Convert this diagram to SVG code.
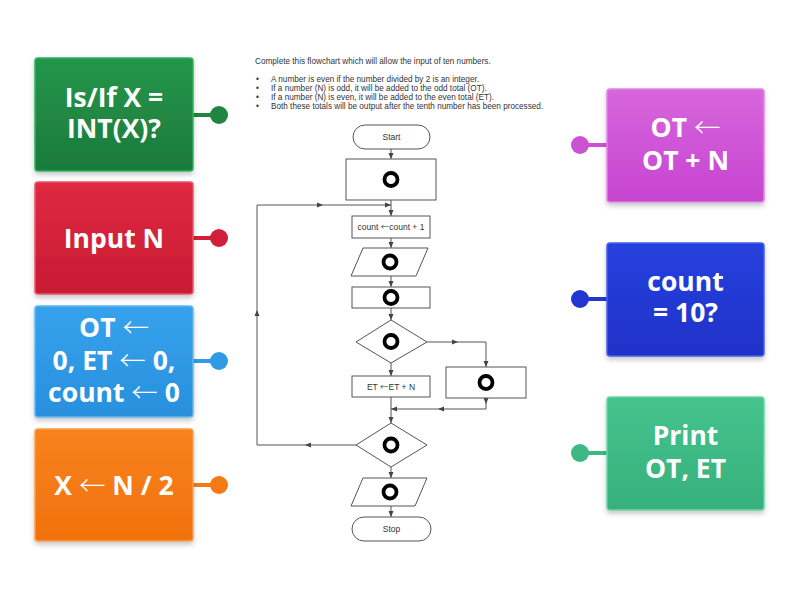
<svg xmlns="http://www.w3.org/2000/svg" width="800" height="600" viewBox="0 0 800 600">
<defs>
  <style>
    .card-text{font-family:"Open Sans","Noto Sans",sans-serif;font-weight:700;font-size:26.5px;fill:#ffffff;text-anchor:middle}
    .arw{font-family:"Noto Sans CJK SC","Noto Sans",sans-serif;font-weight:300}
    .fc{fill:#ffffff;stroke:#555555;stroke-width:1}
    .fc-text{font-family:"Liberation Sans",Arial,sans-serif;font-size:8.5px;fill:#333333;text-anchor:middle}
    .intro{font-family:"Liberation Sans",Arial,sans-serif;font-size:8.2px;fill:#333333}
    .conn{fill:none;stroke:#555555;stroke-width:1}
    .ring{fill:none;stroke:#000000;stroke-width:3.8}
    .pin{stroke-width:4}
  </style>
  <marker id="arr" viewBox="0 0 6 6" refX="6" refY="3" markerWidth="6" markerHeight="6" markerUnits="userSpaceOnUse" orient="auto">
    <path d="M0,0.5 L6,3 L0,5.5 z" fill="#444444"/>
  </marker>
  <filter id="sh" x="-10%" y="-10%" width="120%" height="130%">
    <feDropShadow dx="0" dy="3" stdDeviation="2.5" flood-color="#000000" flood-opacity="0.22"/>
  </filter>
  <linearGradient id="gGreen" x1="0" y1="0" x2="0" y2="1"><stop offset="0" stop-color="#24964a"/><stop offset="1" stop-color="#1d7a3c"/></linearGradient>
  <linearGradient id="gRed" x1="0" y1="0" x2="0" y2="1"><stop offset="0" stop-color="#df2a42"/><stop offset="1" stop-color="#c81a33"/></linearGradient>
  <linearGradient id="gBlue" x1="0" y1="0" x2="0" y2="1"><stop offset="0" stop-color="#36a2ec"/><stop offset="1" stop-color="#2890de"/></linearGradient>
  <linearGradient id="gOrange" x1="0" y1="0" x2="0" y2="1"><stop offset="0" stop-color="#f8821c"/><stop offset="1" stop-color="#f0720e"/></linearGradient>
  <linearGradient id="gPurple" x1="0" y1="0" x2="0" y2="1"><stop offset="0" stop-color="#d766dc"/><stop offset="1" stop-color="#c644d0"/></linearGradient>
  <linearGradient id="gNavy" x1="0" y1="0" x2="0" y2="1"><stop offset="0" stop-color="#2640de"/><stop offset="1" stop-color="#1f32c8"/></linearGradient>
  <linearGradient id="gTeal" x1="0" y1="0" x2="0" y2="1"><stop offset="0" stop-color="#45c38d"/><stop offset="1" stop-color="#37b07c"/></linearGradient>
</defs>
<rect width="800" height="600" fill="#ffffff"/>

<!-- intro text -->
<g id="intro">
  <text class="intro" x="255" y="64">Complete this flowchart which will allow the input of ten numbers.</text>
  <text class="intro" x="256" y="82">•</text>
  <text class="intro" x="271" y="82">A number is even if the number divided by 2 is an integer.</text>
  <text class="intro" x="256" y="91">•</text>
  <text class="intro" x="271" y="91">If a number (N) is odd, it will be added to the odd total (OT).</text>
  <text class="intro" x="256" y="100">•</text>
  <text class="intro" x="271" y="100">If a number (N) is even, it will be added to the even total (ET).</text>
  <text class="intro" x="256" y="109">•</text>
  <text class="intro" x="271" y="109">Both these totals will be output after the tenth number has been processed.</text>
</g>

<!-- connectors -->
<g id="connectors">
  <line class="conn" x1="391" y1="149" x2="391" y2="159" marker-end="url(#arr)"/>
  <line class="conn" x1="391" y1="200" x2="391" y2="216" marker-end="url(#arr)"/>
  <line class="conn" x1="391" y1="238" x2="391" y2="248" marker-end="url(#arr)"/>
  <line class="conn" x1="391" y1="276" x2="391" y2="287" marker-end="url(#arr)"/>
  <line class="conn" x1="391" y1="308" x2="391" y2="320" marker-end="url(#arr)"/>
  <line class="conn" x1="391" y1="363" x2="391" y2="376" marker-end="url(#arr)"/>
  <line class="conn" x1="391" y1="397" x2="391" y2="423" marker-end="url(#arr)"/>
  <line class="conn" x1="391" y1="467" x2="391" y2="478" marker-end="url(#arr)"/>
  <line class="conn" x1="391" y1="506" x2="391" y2="517" marker-end="url(#arr)"/>
  <!-- diamond 1 right branch -->
  <line class="conn" x1="427" y1="342" x2="458" y2="342" marker-end="url(#arr)"/>
  <polyline class="conn" points="458,342 486,342 486,367" marker-end="url(#arr)"/>
  <!-- right rect back to main line -->
  <line class="conn" x1="486" y1="398" x2="486" y2="404" marker-end="url(#arr)"/>
  <polyline class="conn" points="486,404 486,409 438,409" marker-end="url(#arr)"/>
  <line class="conn" x1="438" y1="409" x2="391" y2="409" marker-end="url(#arr)"/>
  <!-- loop back from diamond 2 -->
  <line class="conn" x1="356" y1="445" x2="305" y2="445" marker-end="url(#arr)"/>
  <polyline class="conn" points="305,445 257,445 257,310" marker-end="url(#arr)"/>
  <polyline class="conn" points="257,310 257,205 323,205" marker-end="url(#arr)"/>
  <line class="conn" x1="323" y1="205" x2="391" y2="205" marker-end="url(#arr)"/>
</g>

<!-- flowchart nodes -->
<g id="start"><rect class="fc" x="353" y="125" width="77" height="24" rx="12"/><text class="fc-text" x="391.5" y="140">Start</text></g>
<g id="init-box"><rect class="fc" x="346" y="159" width="90" height="41"/><circle class="ring" cx="391" cy="179.5" r="6.5"/></g>
<g id="count-inc"><rect class="fc" x="352" y="216" width="78" height="22"/><text class="fc-text" x="391" y="230">count <tspan class="arw">←</tspan>count + 1</text></g>
<g id="input-box"><polygon class="fc" points="363,248 428,248 416,276 351,276"/><circle class="ring" cx="390" cy="262" r="6.5"/></g>
<g id="calc-box"><rect class="fc" x="352" y="287" width="78" height="21"/><circle class="ring" cx="391" cy="297.5" r="6.5"/></g>
<g id="decision1"><polygon class="fc" points="391,320 427,342 391,363 356,342"/><circle class="ring" cx="391" cy="341.5" r="6.5"/></g>
<g id="et-box"><rect class="fc" x="352" y="376" width="78" height="21"/><text class="fc-text" x="391" y="389.5">ET <tspan class="arw">←</tspan>ET + N</text></g>
<g id="ot-box"><rect class="fc" x="446" y="367" width="80" height="31"/><circle class="ring" cx="486" cy="382.5" r="6.5"/></g>
<g id="decision2"><polygon class="fc" points="391,423 427,445 391,467 356,445"/><circle class="ring" cx="391" cy="445" r="6.5"/></g>
<g id="output-box"><polygon class="fc" points="363,478 427,478 415,506 351,506"/><circle class="ring" cx="390" cy="492" r="6.5"/></g>
<g id="stop"><rect class="fc" x="352" y="517" width="79" height="24" rx="12"/><text class="fc-text" x="391.5" y="532">Stop</text></g>

<!-- answer cards left -->
<g id="card-isint">
  <line class="pin" x1="190" y1="115" x2="219" y2="115" stroke="#1f8541"/><circle cx="219" cy="115" r="9" fill="#1f8541"/>
  <rect x="35" y="58" width="158" height="113" rx="3" fill="url(#gGreen)" stroke="#2db45b" stroke-width="1.5" filter="url(#sh)"/>
  <text class="card-text" x="114" y="107">Is/If X =</text>
  <text class="card-text" x="114" y="138">INT(X)?</text>
</g>
<g id="card-input">
  <line class="pin" x1="190" y1="238" x2="219" y2="238" stroke="#d21f39"/><circle cx="219" cy="238" r="9" fill="#d21f39"/>
  <rect x="35" y="182" width="158" height="112" rx="3" fill="url(#gRed)" stroke="#e8566a" stroke-width="1.5" filter="url(#sh)"/>
  <text class="card-text" x="114" y="248">Input N</text>
</g>
<g id="card-init">
  <line class="pin" x1="190" y1="361" x2="219" y2="361" stroke="#2f9ae6"/><circle cx="219" cy="361" r="9" fill="#2f9ae6"/>
  <rect x="35" y="306" width="158" height="111" rx="3" fill="url(#gBlue)" stroke="#5fb6f0" stroke-width="1.5" filter="url(#sh)"/>
  <text class="card-text" x="114" y="337">OT <tspan class="arw">←</tspan></text>
  <text class="card-text" x="114" y="370">0, ET <tspan class="arw">←</tspan> 0,</text>
  <text class="card-text" x="114" y="402">count <tspan class="arw">←</tspan> 0</text>
</g>
<g id="card-half">
  <line class="pin" x1="190" y1="485" x2="219" y2="485" stroke="#f47a14"/><circle cx="219" cy="485" r="9" fill="#f47a14"/>
  <rect x="35" y="429" width="158" height="112" rx="3" fill="url(#gOrange)" stroke="#fa9d4e" stroke-width="1.5" filter="url(#sh)"/>
  <text class="card-text" x="114" y="495">X <tspan class="arw">←</tspan> N / 2</text>
</g>

<!-- answer cards right -->
<g id="card-ot">
  <line class="pin" x1="580" y1="145" x2="610" y2="145" stroke="#cc52d4"/><circle cx="580" cy="145" r="9" fill="#cc52d4"/>
  <rect x="607" y="89" width="157" height="113" rx="3" fill="url(#gPurple)" stroke="#df85e3" stroke-width="1.5" filter="url(#sh)"/>
  <text class="card-text" x="685.5" y="137">OT <tspan class="arw">←</tspan></text>
  <text class="card-text" x="685.5" y="170">OT + N</text>
</g>
<g id="card-count">
  <line class="pin" x1="580" y1="299" x2="610" y2="299" stroke="#2237d2"/><circle cx="580" cy="299" r="9" fill="#2237d2"/>
  <rect x="607" y="243" width="157" height="113" rx="3" fill="url(#gNavy)" stroke="#4a60e6" stroke-width="1.5" filter="url(#sh)"/>
  <text class="card-text" x="685.5" y="291">count</text>
  <text class="card-text" x="685.5" y="322">= 10?</text>
</g>
<g id="card-print">
  <line class="pin" x1="580" y1="453" x2="610" y2="453" stroke="#3bb883"/><circle cx="580" cy="453" r="9" fill="#3bb883"/>
  <rect x="607" y="397" width="157" height="113" rx="3" fill="url(#gTeal)" stroke="#6cd3a6" stroke-width="1.5" filter="url(#sh)"/>
  <text class="card-text" x="685.5" y="445">Print</text>
  <text class="card-text" x="685.5" y="478">OT, ET</text>
</g>
</svg>
